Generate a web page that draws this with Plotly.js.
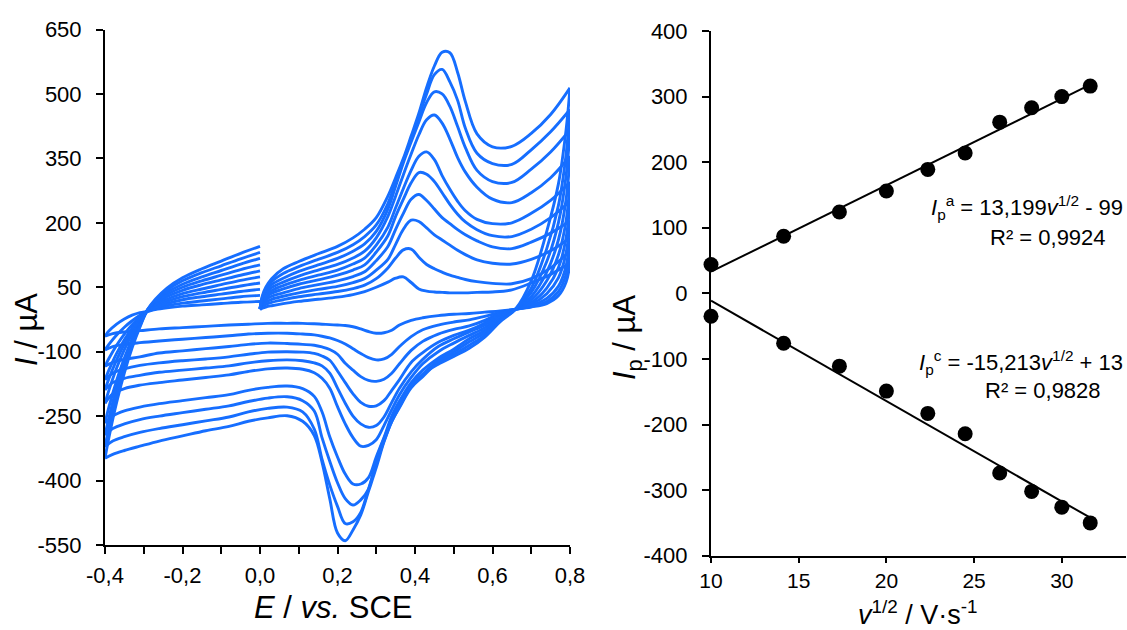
<!DOCTYPE html>
<html><head><meta charset="utf-8">
<script src="https://cdn.plot.ly/plotly-3.0.1.min.js"></script>
<style>html,body{margin:0;padding:0;background:#fff;}#chart{width:1127px;height:630px;}</style>
</head><body><div id="chart"></div>
<script>
// ---------- Left panel: cyclic voltammograms (scan rates 100 ... 1000 mV/s) ----------
const scanRates = [100, 200, 300, 400, 500, 600, 700, 800, 900, 1000];

// potential grids (V vs. SCE) for the three parts of each scan
const E_fwd = [0.000, 0.006, 0.015, 0.03, 0.06, 0.10, 0.15, 0.20, 0.24, 0.27, 0.30, 0.33, 0.35, 0.37, 0.39, 0.41, 0.43, 0.45, 0.47, 0.49, 0.51, 0.53, 0.56, 0.60, 0.65, 0.70, 0.75, 0.80];
const E_rev = [0.80, 0.79, 0.77, 0.74, 0.70, 0.66, 0.62, 0.58, 0.54, 0.50, 0.46, 0.42, 0.39, 0.36, 0.34, 0.32, 0.30, 0.28, 0.26, 0.24, 0.22, 0.20, 0.18, 0.16, 0.14, 0.11, 0.07, 0.02, -0.03, -0.08, -0.14, -0.20, -0.26, -0.31, -0.35, -0.38, -0.40];
const E_ret = [-0.40, -0.39, -0.37, -0.35, -0.33, -0.31, -0.29, -0.27, -0.24, -0.20, -0.15, -0.10, -0.05, 0.00];

// forward scan 0.0 -> 0.8 V (current, µA)
const fwd100  = [-2, 1, 4, 7, 12, 17, 22, 27, 33, 40, 50, 62, 71, 74, 61, 46, 41, 39, 38, 37, 37, 37, 38, 39, 44, 60, 80, 107];
const fwd200  = [-2, 5, 10, 15, 21, 28, 34, 40, 47, 55, 70, 95, 118, 137, 139, 120, 103, 93, 85, 78, 73, 68, 63, 59, 58, 70, 95, 135];
const fwd300  = [-1, 8, 15, 22, 29, 37, 45, 52, 61, 70, 90, 115, 150, 185, 206, 203, 188, 172, 160, 148, 136, 126, 114, 106, 104, 115, 135, 165];
const fwd400  = [-1, 11, 20, 29, 37, 47, 56, 65, 75, 86, 112, 145, 185, 222, 255, 266, 252, 232, 212, 198, 184, 172, 158, 144, 140, 155, 176, 205];
const fwd500  = [0, 14, 25, 36, 46, 57, 67, 78, 90, 102, 132, 170, 215, 255, 293, 317, 313, 296, 270, 243, 220, 202, 184, 170, 168, 185, 212, 250];
const fwd600  = [0, 17, 30, 42, 54, 66, 78, 90, 104, 118, 148, 190, 235, 280, 322, 355, 365, 347, 310, 278, 250, 228, 208, 198, 200, 222, 252, 295];
const fwd700  = [0, 20, 35, 49, 62, 76, 90, 103, 118, 134, 165, 215, 262, 312, 360, 405, 440, 451, 432, 395, 352, 318, 283, 255, 247, 270, 305, 355];
const fwd800  = [0, 23, 40, 56, 71, 87, 102, 117, 134, 151, 180, 232, 285, 340, 388, 435, 480, 505, 500, 471, 424, 375, 322, 296, 294, 325, 365, 417];
const fwd900  = [0, 27, 45, 63, 82, 98, 115, 131, 149, 168, 195, 245, 295, 345, 395, 448, 500, 545, 557, 528, 485, 420, 362, 338, 336, 370, 412, 464];
const fwd1000 = [0, 30, 50, 70, 93, 110, 128, 145, 165, 185, 212, 262, 305, 350, 402, 455, 515, 565, 597, 596, 550, 482, 407, 377, 378, 408, 452, 514];

// reverse scan 0.8 -> -0.4 V
const rev100  = [107, 62, 30, 12, 4, -1, -5, -8, -11, -13, -16, -21, -27, -38, -50, -56, -57, -53, -47, -42, -39, -38, -37, -36, -35, -34, -34, -34, -36, -38, -41, -44, -47, -51, -54, -58, -64];
const rev200  = [135, 80, 40, 17, 5, -1, -8, -18, -26, -31, -38, -49, -65, -88, -106, -117, -119, -114, -104, -93, -82, -74, -68, -64, -61, -59, -57, -57, -59, -63, -67, -71, -75, -79, -83, -88, -96];
const rev300  = [165, 100, 52, 24, 7, -1, -10, -27, -40, -48, -59, -76, -97, -128, -150, -164, -169, -167, -158, -143, -127, -106, -95, -89, -85, -83, -81, -80, -83, -88, -93, -98, -103, -112, -118, -125, -134];
const rev400  = [205, 130, 72, 35, 10, -1, -12, -33, -50, -62, -78, -102, -125, -165, -190, -214, -226, -227, -218, -198, -172, -145, -120, -110, -104, -101, -100, -101, -106, -112, -117, -121, -126, -132, -140, -150, -165];
const rev500  = [250, 165, 95, 48, 14, -1, -14, -38, -54, -70, -88, -118, -147, -185, -218, -252, -272, -276, -268, -250, -220, -185, -150, -133, -126, -121, -119, -121, -126, -133, -138, -143, -148, -155, -162, -172, -189];
const rev600  = [295, 205, 125, 65, 20, -1, -17, -44, -62, -80, -100, -128, -160, -200, -235, -272, -305, -318, -320, -300, -268, -228, -185, -162, -149, -141, -138, -140, -146, -154, -160, -166, -172, -178, -186, -198, -220];
const rev700  = [355, 255, 160, 85, 28, -1, -20, -50, -70, -94, -115, -143, -172, -215, -250, -300, -345, -393, -408, -408, -385, -345, -298, -240, -204, -186, -180, -183, -190, -200, -207, -214, -221, -229, -238, -250, -266];
const rev800  = [417, 310, 200, 110, 38, -1, -24, -56, -77, -100, -120, -153, -178, -222, -258, -302, -352, -420, -445, -457, -442, -405, -355, -300, -238, -214, -205, -208, -216, -226, -234, -242, -250, -258, -268, -279, -294];
const rev900  = [464, 360, 240, 140, 48, -1, -27, -62, -85, -106, -124, -158, -184, -230, -263, -308, -362, -420, -474, -496, -500, -460, -410, -350, -280, -240, -229, -232, -240, -252, -261, -270, -279, -288, -298, -308, -321];
const rev1000 = [514, 417, 290, 180, 65, 0, -30, -66, -92, -111, -129, -152, -180, -228, -262, -310, -370, -425, -480, -515, -540, -522, -442, -357, -295, -262, -249, -254, -262, -274, -284, -296, -308, -320, -330, -339, -348];

// return scan -0.4 -> 0.0 V
const ret100  = [-64, -52, -36, -24, -15, -9, -6, -2, 2, 6, 9, 12, 15, 17];
const ret200  = [-96, -83, -61, -43, -28, -15, -6, 1, 7, 13, 18, 23, 28, 31];
const ret300  = [-134, -116, -85, -59, -37, -19, -5, 3, 12, 21, 28, 34, 40, 45];
const ret400  = [-165, -143, -104, -72, -45, -23, -5, 6, 17, 28, 37, 45, 53, 60];
const ret500  = [-189, -163, -119, -82, -51, -25, -4, 9, 22, 35, 46, 56, 66, 74];
const ret600  = [-220, -190, -138, -95, -59, -29, -4, 11, 28, 43, 56, 67, 78, 88];
const ret700  = [-266, -229, -167, -115, -70, -34, -3, 14, 33, 50, 65, 78, 91, 102];
const ret800  = [-294, -254, -184, -126, -77, -37, -3, 17, 38, 57, 74, 89, 104, 117];
const ret900  = [-321, -277, -201, -138, -84, -40, -2, 19, 43, 65, 84, 100, 116, 131];
const ret1000 = [-348, -300, -218, -149, -91, -43, -2, 22, 48, 72, 93, 111, 129, 145];

const fwdCurves = [fwd100, fwd200, fwd300, fwd400, fwd500, fwd600, fwd700, fwd800, fwd900, fwd1000];
const revCurves = [rev100, rev200, rev300, rev400, rev500, rev600, rev700, rev800, rev900, rev1000];
const retCurves = [ret100, ret200, ret300, ret400, ret500, ret600, ret700, ret800, ret900, ret1000];

// tick labels (left panel)
const eTickVals = [-0.4, -0.2, 0.0, 0.2, 0.4, 0.6, 0.8];
const eTickText = ['-0,4', '-0,2', '0,0', '0,2', '0,4', '0,6', '0,8'];
const iTickVals = [-550, -400, -250, -100, 50, 200, 350, 500, 650];
const iTickText = ['-550', '-400', '-250', '-100', '50', '200', '350', '500', '650'];

// ---------- Right panel: peak currents vs. square root of scan rate ----------
const sqrtRate = [10, 14.14, 17.32, 20, 22.36, 24.49, 26.46, 28.28, 30, 31.62];
const ipAnodic = [44, 87, 124, 156, 189, 214, 261, 283, 300, 316];
const ipCathodic = [-35, -76, -111, -149, -183, -214, -274, -302, -326, -350];

const vTickVals = [10, 15, 20, 25, 30];
const vTickText = ['10', '15', '20', '25', '30'];
const ipTickVals = [-400, -300, -200, -100, 0, 100, 200, 300, 400];
const ipTickText = ['-400', '-300', '-200', '-100', '0', '100', '200', '300', '400'];

const fitTextA = ['<i>I</i><sub>p</sub><sup>a</sup> = 13,199<i>v</i><sup>1/2</sup> - 99', 'R² = 0,9924'];
const fitTextC = ['<i>I</i><sub>p</sub><sup>c</sup> = -15,213<i>v</i><sup>1/2</sup> + 13', 'R² = 0,9828'];

// ---------- build ----------
const BLUE = 'rgb(22,110,255)';
const W = 1127, H = 630;
const px = v => v / W;
const py = v => 1 - v / H;

function linfit(x, y) {
  const n = x.length;
  const mx = x.reduce((a, b) => a + b, 0) / n;
  const my = y.reduce((a, b) => a + b, 0) / n;
  let sxy = 0, sxx = 0;
  for (let i = 0; i < n; i++) { sxy += (x[i] - mx) * (y[i] - my); sxx += (x[i] - mx) ** 2; }
  const m = sxy / sxx;
  return { m: m, b: my - m * mx };
}

const traces = [];
const cvLine = { color: BLUE, width: 2.9, shape: 'spline', smoothing: 1 };
scanRates.forEach((r, i) => {
  [[E_fwd, fwdCurves[i]], [E_rev, revCurves[i]], [E_ret, retCurves[i]]].forEach(([ex, iy]) => {
    traces.push({ type: 'scatter', mode: 'lines', x: ex, y: iy, xaxis: 'x', yaxis: 'y',
      line: cvLine, hoverinfo: 'skip', name: r + ' mV/s' });
  });
});

[ipAnodic, ipCathodic].forEach(ys => {
  const f = linfit(sqrtRate, ys);
  const x0 = sqrtRate[0], x1 = sqrtRate[sqrtRate.length - 1];
  traces.push({ type: 'scatter', mode: 'lines', x: [x0, x1], y: [f.m * x0 + f.b, f.m * x1 + f.b],
    xaxis: 'x2', yaxis: 'y2', line: { color: 'black', width: 2 }, hoverinfo: 'skip' });
});
[ipAnodic, ipCathodic].forEach(ys => {
  traces.push({ type: 'scatter', mode: 'markers', x: sqrtRate, y: ys, xaxis: 'x2', yaxis: 'y2',
    marker: { color: 'black', size: 15 }, cliponaxis: false });
});

const FONT = 'Arial, "Liberation Sans", sans-serif';
const axBase = { showline: true, linewidth: 2, linecolor: 'black', showgrid: false, zeroline: false,
  ticks: 'outside', ticklen: 7, tickwidth: 2, tickcolor: 'black', layer: 'below traces', tickmode: 'array',
  tickfont: { family: FONT, size: 22, color: 'black' } };

const layout = {
  width: W, height: H, margin: { l: 0, r: 0, t: 0, b: 0, pad: 0 },
  paper_bgcolor: 'white', plot_bgcolor: 'white', showlegend: false,
  font: { family: FONT, color: 'black', size: 22 },
  xaxis: Object.assign({}, axBase, { domain: [px(105), px(570)], range: [-0.4, 0.8],
    tickvals: eTickVals, ticktext: eTickText, anchor: 'y', ticklabelstandoff: 3,
    minor: { tickmode: 'linear', tick0: -0.4, dtick: 0.1, ticks: 'outside', ticklen: 7, tickwidth: 2, tickcolor: 'black', showgrid: false } }),
  yaxis: Object.assign({}, axBase, { domain: [py(545), py(29.5)], range: [-550, 650],
    tickvals: iTickVals, ticktext: iTickText, anchor: 'x', ticklabelstandoff: 10 }),
  xaxis2: Object.assign({}, axBase, { domain: [px(711), px(1126)], range: [10, 33.66],
    tickvals: vTickVals, ticktext: vTickText, anchor: 'y2', ticklen: 5, ticklabelstandoff: 0,
    tickfont: { family: FONT, size: 21, color: 'black' } }),
  yaxis2: Object.assign({}, axBase, { domain: [py(555.7), py(31)], range: [-400, 400],
    tickvals: ipTickVals, ticktext: ipTickText, anchor: 'x2', ticklabelstandoff: 10 }),
  annotations: [
    { xref: 'paper', yref: 'paper', x: px(333), y: py(607), xanchor: 'center', yanchor: 'middle', showarrow: false,
      text: '<i>E</i> / <i>vs.</i> SCE', font: { family: FONT, size: 31 } },
    { xref: 'paper', yref: 'paper', x: px(918), y: py(613), xanchor: 'center', yanchor: 'middle', showarrow: false,
      text: '<i>v</i><sup>1/2</sup> / V·s<sup>-1</sup>', font: { family: FONT, size: 27 } },
    { xref: 'paper', yref: 'paper', x: px(26), y: py(330), xanchor: 'center', yanchor: 'middle', showarrow: false,
      textangle: -90, text: '<i>I</i> / µA', font: { family: FONT, size: 31 } },
    { xref: 'paper', yref: 'paper', x: px(627), y: py(338), xanchor: 'center', yanchor: 'middle', showarrow: false,
      textangle: -90, text: '<i>I</i><sub>p</sub> / µA', font: { family: FONT, size: 31 } },
    { xref: 'paper', yref: 'paper', x: px(1125), y: py(208), xanchor: 'right', yanchor: 'middle', showarrow: false,
      text: fitTextA[0], font: { family: FONT, size: 22 } },
    { xref: 'paper', yref: 'paper', x: px(1108), y: py(237), xanchor: 'right', yanchor: 'middle', showarrow: false,
      text: fitTextA[1], font: { family: FONT, size: 22 } },
    { xref: 'paper', yref: 'paper', x: px(1125), y: py(362), xanchor: 'right', yanchor: 'middle', showarrow: false,
      text: fitTextC[0], font: { family: FONT, size: 22 } },
    { xref: 'paper', yref: 'paper', x: px(1103), y: py(390), xanchor: 'right', yanchor: 'middle', showarrow: false,
      text: fitTextC[1], font: { family: FONT, size: 22 } }
  ]
};

Plotly.newPlot('chart', traces, layout, { staticPlot: true, displayModeBar: false });
</script></body></html>
